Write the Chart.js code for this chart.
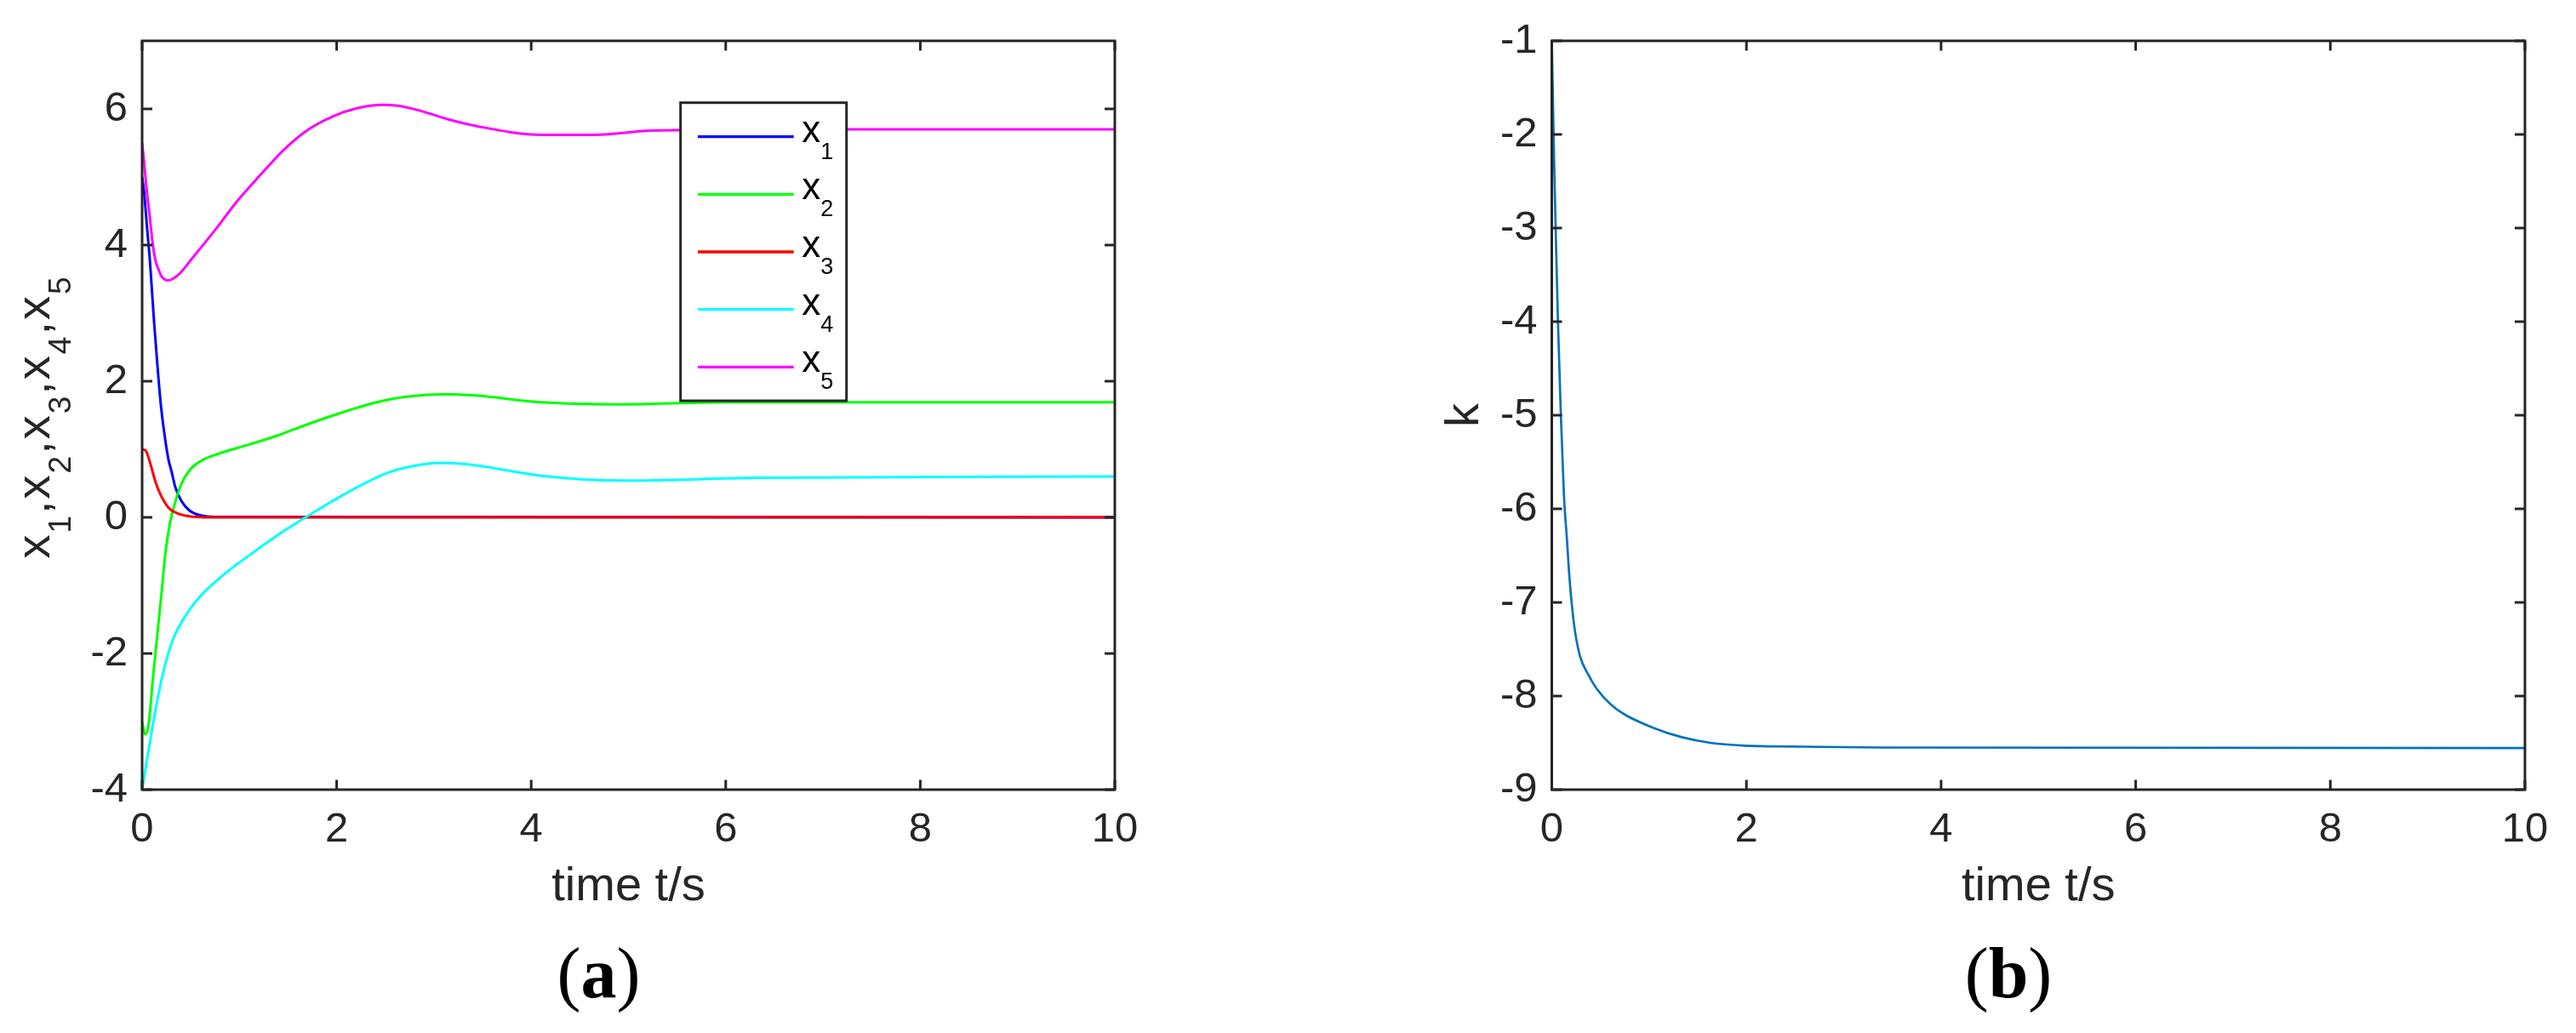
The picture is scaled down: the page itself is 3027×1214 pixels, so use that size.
<!DOCTYPE html>
<html><head><meta charset="utf-8">
<script src="https://cdn.jsdelivr.net/npm/chart.js@4.4.1/dist/chart.umd.min.js"></script>
<style>
html,body{margin:0;padding:0;background:#fff;}
body{width:3027px;height:1214px;position:relative;overflow:hidden;}
canvas{position:absolute;top:0;}
#ca{left:0;}
#cb{left:1500px;}
</style></head><body>
<canvas id="ca" width="1500" height="1214"></canvas>
<canvas id="cb" width="1527" height="1214"></canvas>
<script>
// ---------- data ----------
const xTicks  = [0, 2, 4, 6, 8, 10];
const yTicksA = [-4, -2, 0, 2, 4, 6];
const yTicksB = [-9, -8, -7, -6, -5, -4, -3, -2, -1];

const seriesNames  = ['x1', 'x2', 'x3', 'x4', 'x5'];
const seriesColors = ['#0000ff', '#00ff00', '#ff0000', '#00ffff', '#ff00ff'];

const t1 = [0, 0.02, 0.05, 0.08, 0.094, 0.124, 0.153, 0.19, 0.225, 0.27, 0.30, 0.342, 0.40, 0.487, 0.60, 0.81, 10];
const x1 = [5.0, 4.78, 4.27, 3.77, 3.48, 2.85, 2.31, 1.69, 1.27, 0.855, 0.69, 0.44, 0.25, 0.10, 0.03, 0.005, 0];

const t2 = [0, 0.03, 0.065, 0.109, 0.153, 0.197, 0.24, 0.284, 0.342, 0.40, 0.487, 0.604, 0.81, 1.10, 1.39, 1.535, 1.97, 2.41, 2.70, 3.14, 3.43, 4.11, 4.89, 6.0, 10];
const x2 = [-3.0, -3.19, -3.06, -2.40, -1.77, -1.15, -0.52, -0.105, 0.23, 0.48, 0.69, 0.83, 0.945, 1.07, 1.20, 1.28, 1.50, 1.69, 1.77, 1.81, 1.79, 1.69, 1.66, 1.69, 1.69];

const t3 = [0, 0.037, 0.08, 0.138, 0.197, 0.27, 0.37, 0.517, 0.7, 10];
const x3 = [1.0, 0.98, 0.81, 0.52, 0.31, 0.145, 0.055, 0.01, 0, 0];

const t4 = [0, 0.05, 0.109, 0.168, 0.225, 0.313, 0.43, 0.604, 0.866, 1.157, 1.448, 1.68, 1.97, 2.26, 2.555, 2.845, 3.08, 3.40, 4.11, 4.94, 6.33, 10];
const x4 = [-4.0, -3.56, -3.06, -2.60, -2.23, -1.81, -1.48, -1.15, -0.81, -0.50, -0.21, 0.0, 0.25, 0.48, 0.67, 0.77, 0.80, 0.77, 0.61, 0.54, 0.58, 0.60];

const t5 = [0, 0.022, 0.05, 0.08, 0.109, 0.138, 0.168, 0.2, 0.27, 0.37, 0.517, 0.75, 0.98, 1.216, 1.45, 1.68, 1.97, 2.205, 2.47, 2.61, 2.845, 3.14, 3.43, 4.11, 4.66, 5.22, 6.5, 10];
const x5 = [5.50, 5.19, 4.77, 4.40, 4.02, 3.77, 3.645, 3.54, 3.48, 3.56, 3.81, 4.22, 4.65, 5.03, 5.39, 5.67, 5.895, 6.01, 6.06, 6.05, 5.98, 5.85, 5.75, 5.62, 5.62, 5.68, 5.70, 5.70];

const tk = [0, 0.009, 0.0175, 0.026, 0.035, 0.044, 0.0525, 0.061, 0.07, 0.079, 0.0876, 0.096, 0.105, 0.125, 0.155, 0.184, 0.228, 0.286, 0.374, 0.46, 0.607, 0.753, 1.045, 1.337, 1.63, 1.98, 2.5, 3.38, 10];
const kv = [-1, -1.5, -1.95, -2.4, -2.8, -3.2, -3.56, -3.91, -4.23, -4.53, -4.82, -5.08, -5.32, -5.86, -6.32, -6.77, -7.23, -7.56, -7.77, -7.92, -8.09, -8.20, -8.34, -8.44, -8.50, -8.53, -8.54, -8.55, -8.555];
const kName  = 'k';
const kColor = '#0072bd';

const xTitle = 'time t/s';
const panelLetters = ['a', 'b'];

// ---------- helpers ----------
const AX = '#262626';
const SANS = "'Liberation Sans', Arial, Helvetica, sans-serif";
const SERIF = "'Liberation Serif', 'Times New Roman', serif";
Chart.defaults.font.family = SANS;
Chart.defaults.color = AX;

function pts(ts, vs) { return ts.map((t, i) => ({x: t, y: vs[i]})); }

function drawPanelLabel(ctx, letter, cx, baseline) {
  ctx.save();
  ctx.fillStyle = '#000';
  ctx.textBaseline = 'alphabetic';
  ctx.textAlign = 'left';
  const fr = '84px ' + SERIF, fb = 'bold 84px ' + SERIF;
  ctx.font = fr; const wp = ctx.measureText('(').width, wq = ctx.measureText(')').width;
  ctx.font = fb; const wl = ctx.measureText(letter).width;
  let x = cx - (wp + wl + wq) / 2;
  ctx.font = fr; ctx.fillText('(', x, baseline); x += wp;
  ctx.font = fb; ctx.fillText(letter, x, baseline); x += wl;
  ctx.font = fr; ctx.fillText(')', x, baseline);
  ctx.restore();
}

function subSegments(names) {
  const segs = [];
  names.forEach((n, i) => {
    segs.push({t: n.charAt(0), sub: false});
    segs.push({t: n.slice(1), sub: true});
    if (i < names.length - 1) segs.push({t: ',', sub: false});
  });
  return segs;
}

function drawRotatedSegs(ctx, segs, bx, cy, target, mainPx, subPx, shift) {
  ctx.save();
  ctx.translate(bx, cy);
  ctx.rotate(-Math.PI / 2);
  ctx.fillStyle = AX;
  ctx.textBaseline = 'alphabetic';
  ctx.textAlign = 'left';
  const fm = mainPx + 'px ' + SANS, fs = subPx + 'px ' + SANS;
  const ws = segs.map(s => { ctx.font = s.sub ? fs : fm; return ctx.measureText(s.t).width; });
  const nat = ws.reduce((a, b) => a + b, 0);
  const extra = Math.max(0, (target - nat) / (segs.length - 1));
  let x = -(nat + extra * (segs.length - 1)) / 2;
  segs.forEach((s, i) => {
    ctx.font = s.sub ? fs : fm;
    ctx.fillText(s.t, x, s.sub ? shift : 0);
    x += ws[i] + extra;
  });
  ctx.restore();
}

const framePlugin = {
  id: 'frame',
  afterDatasetsDraw(chart) {
    const {ctx, chartArea: a, scales} = chart;
    ctx.save();
    ctx.strokeStyle = AX;
    ctx.lineWidth = 3;
    ctx.beginPath();
    scales.x.ticks.forEach(tkk => {
      const px = scales.x.getPixelForValue(tkk.value);
      ctx.moveTo(px, a.bottom); ctx.lineTo(px, a.bottom - 11.5);
      ctx.moveTo(px, a.top); ctx.lineTo(px, a.top + 11.5);
    });
    scales.y.ticks.forEach(tkk => {
      const py = scales.y.getPixelForValue(tkk.value);
      ctx.moveTo(a.left, py); ctx.lineTo(a.left + 12, py);
      ctx.moveTo(a.right, py); ctx.lineTo(a.right - 12, py);
    });
    ctx.stroke();
    ctx.strokeRect(a.left, a.top, a.right - a.left, a.bottom - a.top);
    ctx.restore();
  },
  afterDraw(chart, args, opts) {
    const {ctx, chartArea: a} = chart;
    const cx = (a.left + a.right) / 2;
    // x title
    ctx.save();
    ctx.fillStyle = AX;
    ctx.font = '56px ' + SANS;
    ctx.textAlign = 'center';
    ctx.textBaseline = 'alphabetic';
    ctx.fillText(xTitle, cx, a.bottom + 130);
    ctx.restore();
    // y title
    if (opts.yNames) {
      drawRotatedSegs(ctx, subSegments(opts.yNames), a.left - 109, (a.top + a.bottom) / 2 + 3, 331, 56, 37, 25);
    } else if (opts.yText) {
      ctx.save();
      ctx.translate(a.left - 86.5, (a.top + a.bottom) / 2);
      ctx.rotate(-Math.PI / 2);
      ctx.fillStyle = AX;
      ctx.font = '56px ' + SANS;
      ctx.textAlign = 'center';
      ctx.textBaseline = 'alphabetic';
      ctx.fillText(opts.yText, 0, 0);
      ctx.restore();
    }
    // legend
    if (opts.legendBox) {
      const b = opts.legendBox;
      ctx.save();
      ctx.fillStyle = '#fff';
      ctx.fillRect(b.l, b.t, b.r - b.l, b.b - b.t);
      ctx.strokeStyle = AX; ctx.lineWidth = 3;
      ctx.strokeRect(b.l, b.t, b.r - b.l, b.b - b.t);
      chart.data.datasets.forEach((ds, i) => {
        const y = b.t + 40 + i * 67.65;
        ctx.strokeStyle = ds.borderColor; ctx.lineWidth = 3.3;
        ctx.beginPath(); ctx.moveTo(b.l + 20.3, y); ctx.lineTo(b.l + 133, y); ctx.stroke();
        ctx.fillStyle = '#000';
        ctx.textAlign = 'left'; ctx.textBaseline = 'alphabetic';
        ctx.font = '44px ' + SANS;
        const m = ds.label.charAt(0);
        ctx.fillText(m, b.l + 142.5, y + 6);
        const w = ctx.measureText(m).width;
        ctx.font = '27px ' + SANS;
        ctx.fillText(ds.label.slice(1), b.l + 142.5 + w, y + 26);
      });
      ctx.restore();
    }
    drawPanelLabel(ctx, opts.letter, opts.labelX, 1172);
  }
};

function makeChart(canvas, datasets, yMin, yMax, yTicks, yWidth, padRight, frameOpts) {
  return new Chart(canvas, {
    type: 'line',
    data: {datasets},
    options: {
      responsive: false, animation: false, events: [],
      layout: {padding: {left: 0, top: 48, right: padRight, bottom: 0}},
      plugins: {legend: {display: false}, tooltip: {enabled: false}, frame: frameOpts},
      elements: {point: {radius: 0}, line: {borderWidth: 3, cubicInterpolationMode: 'monotone'}},
      scales: {
        x: {
          type: 'linear', min: 0, max: 10,
          afterBuildTicks: s => { s.ticks = xTicks.map(v => ({value: v})); },
          afterFit: s => { s.height = 286; },
          grid: {display: false, drawTicks: false, tickLength: 0},
          border: {display: false},
          ticks: {font: {size: 49, lineHeight: 1.2}, color: AX, padding: 18.5, maxRotation: 0, minRotation: 0, autoSkip: false}
        },
        y: {
          type: 'linear', min: yMin, max: yMax,
          afterBuildTicks: s => { s.ticks = yTicks.map(v => ({value: v})); },
          afterFit: s => { s.width = yWidth; },
          grid: {display: false, drawTicks: false, tickLength: 0},
          border: {display: false},
          ticks: {font: {size: 49, lineHeight: 1.2}, color: AX, padding: 17, autoSkip: false}
        }
      }
    },
    plugins: [framePlugin]
  });
}

const tsA = [t1, t2, t3, t4, t5];
const vsA = [x1, x2, x3, x4, x5];
const dsA = seriesNames.map((n, i) => ({
  label: n, data: pts(tsA[i], vsA[i]),
  borderColor: seriesColors[i], backgroundColor: seriesColors[i],
  borderWidth: 3, fill: false, order: seriesNames.length - i
}));

makeChart(document.getElementById('ca'), dsA, -4, 7, yTicksA, 167, 190, {
  yNames: seriesNames,
  legendBox: {l: 799.7, t: 120.7, r: 994.7, b: 471},
  letter: panelLetters[0], labelX: 703.5
});

makeChart(document.getElementById('cb'), [{
  label: kName, data: pts(tk, kv), borderColor: kColor, backgroundColor: kColor, borderWidth: 2.7, fill: false
}], -9, -1, yTicksB, 323.5, 60, {
  yText: kName,
  letter: panelLetters[1], labelX: 860
});
</script>
</body></html>
